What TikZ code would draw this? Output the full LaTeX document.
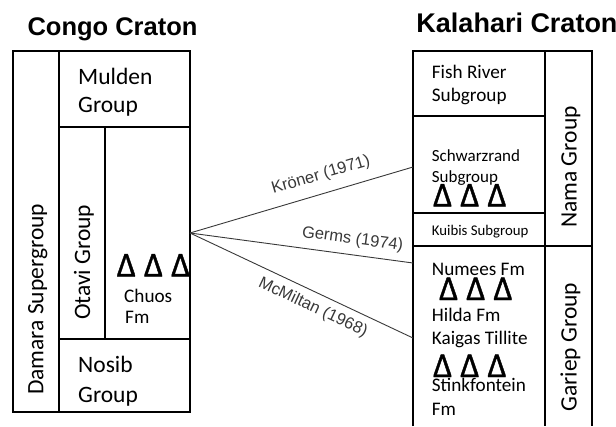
\documentclass[tikz,border=0pt]{standalone}
\usepackage{graphicx}
\usepackage{fontspec}
\setmainfont{Carlito}
\newfontfamily\arialf{Liberation Sans}
\newfontfamily\trifont{Carlito}[FakeBold=1.2]
\usetikzlibrary{calc}
\newcommand\fsz[1]{\fontsize{#1}{#1}\selectfont}
\newcommand\onetri{\scalebox{0.95}[1]{Δ}}
\newcommand\tritri{\onetri\hspace{8.4pt}\onetri\hspace{8.4pt}\onetri}
\tikzset{
  box/.style={draw=black, line width=1.6pt, inner sep=0pt, outer sep=0pt, anchor=north west},
  openbox/.style={draw=none, inner sep=0pt, outer sep=0pt, anchor=north west},
  boxline/.style={line width=1.6pt},
  title/.style={font=\arialf\bfseries\fsz{25.5}, anchor=base, inner sep=0pt},
  big/.style={font=\fsz{23.5}, anchor=base west, inner sep=0pt},
  mid/.style={font=\fsz{19.2}, anchor=base west, inner sep=0pt},
  small/.style={font=\fsz{14.8}, anchor=base west, inner sep=0pt},
  vert/.style={big, rotate=90},
  tri/.style={font=\trifont\fsz{35}, anchor=base west, inner sep=0pt},
  conn/.style={draw=black!78, line width=0.9pt},
  lab/.style={font=\arialf\fsz{16.5}, text=black!78, inner sep=0pt, sloped},
}
\begin{document}
\begin{tikzpicture}[x=1pt,y=-1pt]
\useasboundingbox (0,0) rectangle (616,426);
% titles
\node[title] (congo) at (112.5,35) {Congo Craton};
\node[title, font=\arialf\bfseries\fsz{27}] (kalahari) at (517,32) {Kalahari Craton};
% Congo column
\node[box, minimum width=46pt, minimum height=361pt] (damara) at (13,51) {};
\node[box, minimum width=131pt, minimum height=76pt] (mulden) at (59,51) {};
\node[box, minimum width=46pt, minimum height=212pt] (otavi) at (59,127) {};
\node[box, minimum width=85pt, minimum height=212pt] (chuos) at (105,127) {};
\node[box, minimum width=131pt, minimum height=73pt] (nosib) at (59,339) {};
\node[vert] (damaratxt) at (43.3,395) {Damara Supergroup};
\node[vert] (otavitxt) at (90,320) {Otavi Group};
\node[big] (mulden1) at (78,84) {Mulden};
\node[big] (mulden2) at (78,112) {Group};
\node[big] (nosib1) at (78,372) {Nosib};
\node[big] (nosib2) at (78,402) {Group};
\node[tri] (tri1) at (116.8,276.5) {\tritri};
\node[mid] (chuos1) at (124,302) {Chuos};
\node[mid] (chuos2) at (125,323) {Fm};
% Kalahari column
\node[box, minimum width=132pt, minimum height=65pt] (fish) at (413,51) {};
\node[box, minimum width=132pt, minimum height=97pt] (schwarz) at (413,116) {};
\node[box, minimum width=132pt, minimum height=33pt] (kuibis) at (413,213) {};
\node[box, minimum width=47pt, minimum height=195pt] (nama) at (545,51) {};
\node[openbox, minimum width=132pt, minimum height=180pt] (gariepfm) at (413,246) {};
\node[openbox, minimum width=47pt, minimum height=180pt] (gariepcol) at (545,246) {};
\draw[boxline] (gariepfm.south west) -- (gariepfm.north west) -- (gariepcol.north east) -- (gariepcol.south east);
\draw[boxline] (gariepfm.north east) -- (gariepfm.south east);
\node[mid] (fish1) at (431.7,78.3) {Fish River};
\node[mid] (fish2) at (431.7,101.7) {Subgroup};
\node[mid, font=\fsz{17}] (schw1) at (431.7,161.7) {Schwarzrand};
\node[mid, font=\fsz{17}] (schw2) at (431.7,182.3) {Subgroup};
\node[tri] (tri2) at (433.1,206.5) {\tritri};
\node[small] (kuibistxt) at (431.7,235) {Kuibis Subgroup};
\node[mid] (numees) at (431.7,275) {Numees Fm};
\node[tri] (tri3) at (439.1,300) {\tritri};
\node[mid] (hilda) at (431.7,321.7) {Hilda Fm};
\node[mid] (kaigas) at (431.7,344) {Kaigas Tillite};
\node[tri] (tri4) at (433.1,377) {\tritri};
\node[mid] (stink) at (431.7,391.7) {Stinkfontein};
\node[mid] (stinkfm) at (431.7,415) {Fm};
\node[vert] (namatxt) at (576.7,228) {Nama Group};
\node[vert] (garieptxt) at (576.7,411.7) {Gariep Group};
% connectors
\coordinate (germsend) at (413,263);
\coordinate (mcend) at (413,338);
\draw[conn] (chuos.east) -- node[lab, pos=0.61, above=10pt] (kroner) {Kröner (1971)} ($(schwarz.west)+(0,2.5)$);
\draw[conn] (chuos.east) -- node[lab, pos=0.72, above=7pt] (germs) {Germs (1974)} (germsend);
\draw[conn] (chuos.east) -- node[lab, pos=0.58, below=7pt] (mcmiltan) {McMiltan (1968)} (mcend);
\end{tikzpicture}
\end{document}
